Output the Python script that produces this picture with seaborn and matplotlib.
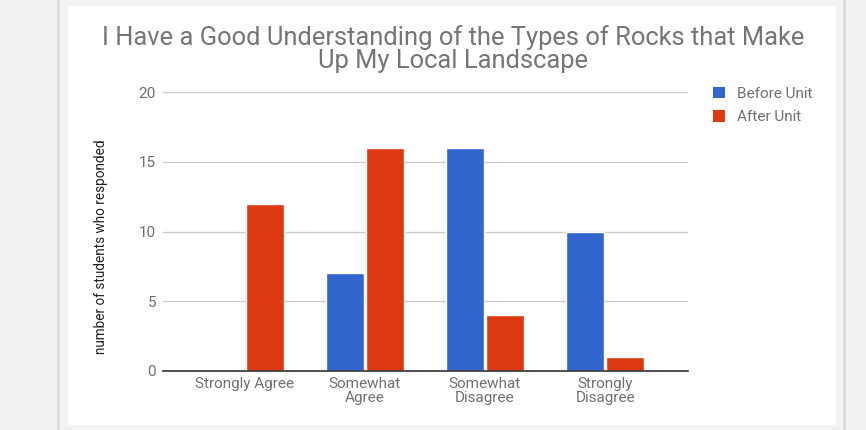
import pandas as pd
import matplotlib.pyplot as plt
import seaborn as sns
from matplotlib.patches import Rectangle, Patch

categories = ['Strongly Agree', 'Somewhat\nAgree', 'Somewhat\nDisagree', 'Strongly\nDisagree']
before_unit = [0, 7, 16, 10]
after_unit = [12, 16, 4, 1]
series_names = ['Before Unit', 'After Unit']
y_ticks = [0, 5, 10, 15, 20]

df = pd.DataFrame({
    'category': categories * 2,
    'count': before_unit + after_unit,
    'series': [series_names[0]] * 4 + [series_names[1]] * 4,
})

sns.set_theme(style='white')
plt.rcParams['font.family'] = ['Roboto', 'DejaVu Sans']

W, H = 866, 430
fig = plt.figure(figsize=(W / 100, H / 100), dpi=100, facecolor='#f1f1f1')

# card background
fig.patches.append(Rectangle((57 / W, 0), (846 - 57) / W, 1, transform=fig.transFigure,
                             facecolor='#dcdcdc', edgecolor='none', zorder=-3))
fig.patches.append(Rectangle((60 / W, 0), (843 - 60) / W, 1, transform=fig.transFigure,
                             facecolor='#f2f2f2', edgecolor='none', zorder=-2))
fig.patches.append(Rectangle((68 / W, 1 - 425 / H), (836 - 68) / W, (425 - 6) / H,
                             transform=fig.transFigure, facecolor='white', edgecolor='none', zorder=-1))

ax = fig.add_axes([163 / W, 1 - 371 / H, (688 - 163) / W, (371 - 92) / H])
ax.set_facecolor('none')

palette = {'Before Unit': '#3366cc', 'After Unit': '#dc3912'}
sns.barplot(data=df, x='category', y='count', hue='series', palette=palette,
            width=0.67, gap=0.05, ax=ax, legend=False, saturation=1, zorder=3)

ax.set_ylim(0, 20)
ax.set_xlim(-0.68, 3.69)
ax.set_yticks(y_ticks)
ax.yaxis.grid(True, color='#cccccc', linewidth=1, zorder=0)
ax.set_axisbelow(True)
for s in ['top', 'right', 'left']:
    ax.spines[s].set_visible(False)
ax.spines['bottom'].set_color('#333333')
ax.spines['bottom'].set_linewidth(1.2)
ax.spines['bottom'].set_zorder(4)
ax.tick_params(axis='both', length=0, labelsize=11, labelcolor='#707070')
ax.tick_params(axis='y', pad=5)
ax.tick_params(axis='x', pad=4)
for lab in ax.get_xticklabels():
    lab.set_linespacing(1.0)
ax.set_xlabel('')
ax.set_ylabel('number of students who responded', fontsize=9.8, color='#222222')
ax.yaxis.set_label_coords(-0.105, 0.445)

fig.text(453 / W, 1 - 49 / H,
         'I Have a Good Understanding of the Types of Rocks that Make\nUp My Local Landscape',
         ha='center', va='center', fontsize=18.4, color='#757575', linespacing=0.9)

handles = [Patch(facecolor=palette[n], edgecolor='none', label=n) for n in series_names]
fig.legend(handles=handles, loc='upper left', bbox_to_anchor=(699 / W, 1 - 73 / H),
           frameon=False, fontsize=11, labelcolor='#707070', handlelength=0.8,
           handleheight=0.8, handletextpad=0.8, labelspacing=0.6)

fig.savefig('out.png', dpi=100, facecolor=fig.get_facecolor())
